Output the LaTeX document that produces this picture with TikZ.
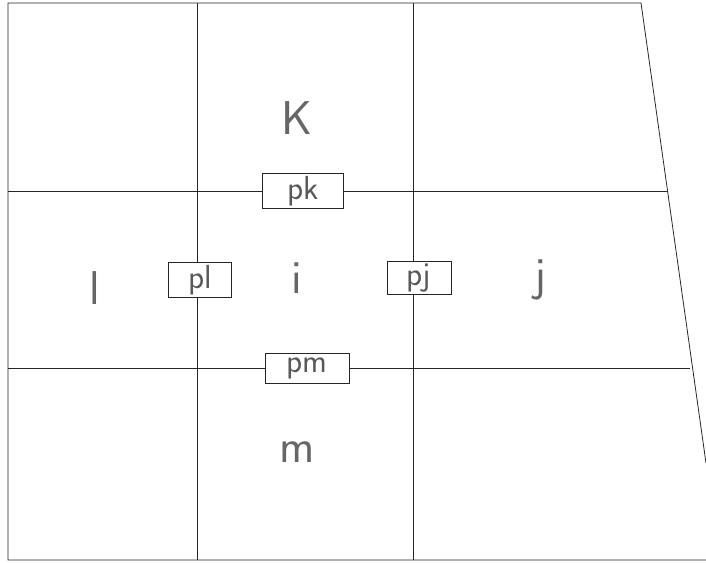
\documentclass[tikz,border=0pt]{standalone}
\usetikzlibrary{positioning}
\begin{document}
\begin{tikzpicture}[
  x=0.02cm, y=-0.02cm,
  gridline/.style={draw=black!85, line width=0.45pt},
  portbox/.style={rectangle, draw=black!85, fill=white, line width=0.45pt, minimum width=1.62cm, minimum height=0.7cm, inner sep=0pt, font={\sffamily\fontsize{19}{19}\selectfont}, text=black!65},
  celllbl/.style={font={\sffamily\fontsize{27}{27}\selectfont}, text=black!60, inner sep=0pt}
]
\useasboundingbox (0,0) rectangle (706,563);
\coordinate (tl) at (8,3);
\coordinate (tr) at (641,3);
\coordinate (bl) at (8,560);
\coordinate (br) at (706,560);
\coordinate (sr) at (706,463);
\coordinate (v1t) at (197,3);
\coordinate (v1b) at (197,560);
\coordinate (v2t) at (413,3);
\coordinate (v2b) at (413,560);
\coordinate (h1l) at (8,191);
\coordinate (h1r) at (667,191);
\coordinate (h2l) at (8,368);
\coordinate (h2r) at (690,368);
\draw[gridline] (sr) -- (tr) -- (tl) -- (bl) -- (br);
\draw[gridline] (v1t) -- (v1b);
\draw[gridline] (v2t) -- (v2b);
\draw[gridline] (h1l) -- (h1r);
\draw[gridline] (h2l) -- (h2r);
\node[portbox] (pk) at (303,191) {pk};
\node[portbox, minimum width=1.26cm] (pl) at (200,280) {pl};
\node[portbox, minimum width=1.28cm, minimum height=0.66cm] (pj) at (419,278) {pj};
\node[portbox, minimum width=1.68cm, minimum height=0.6cm] (pm) at (307,368) {pm};
\node[celllbl] (K) at (297,118) {K};
\node[celllbl] (i) at (297,278) {i};
\node[celllbl] (l) at (95,288) {l};
\node[celllbl] (j) at (540,280) {j};
\node[celllbl] (m) at (297,452) {m};
\end{tikzpicture}
\end{document}
